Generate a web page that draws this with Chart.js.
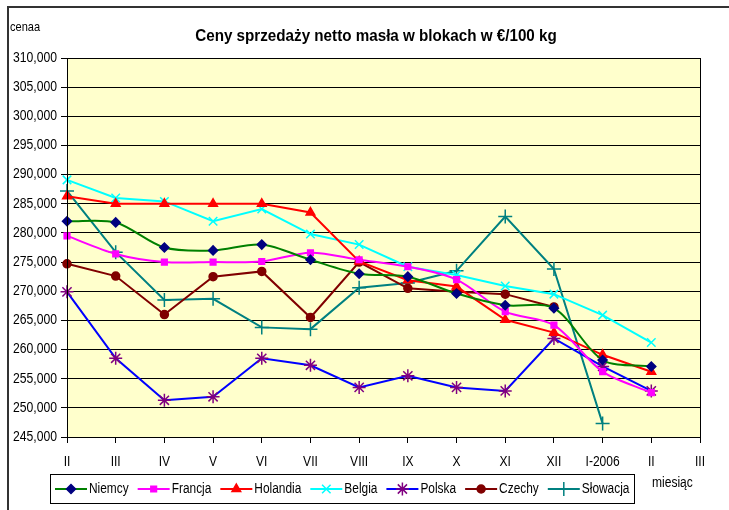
<!DOCTYPE html>
<html>
<head>
<meta charset="utf-8">
<script src="https://cdn.jsdelivr.net/npm/chart.js@4"></script>
<style>
  body { margin: 0; background: #fff; }
  #wrap { width: 729px; height: 510px; }
</style>
</head>
<body>
<div id="wrap"><canvas id="myChart" width="729" height="510"></canvas></div>
<script>
var months = ['II', 'III', 'IV', 'V', 'VI', 'VII', 'VIII', 'IX', 'X', 'XI', 'XII', 'I-2006', 'II', 'III'];

var niemcy   = [282.0, 281.8, 277.5, 277.0, 278.0, 275.4, 273.0, 272.5, 269.6, 267.6, 267.1, 258.2, 257.1, null];
var francja  = [279.5, 276.4, 275.0, 275.0, 275.1, 276.6, 275.4, 274.2, 272.0, 266.5, 264.2, 256.2, 252.6, null];
var holandia = [286.3, 285.0, 285.0, 285.0, 285.0, 283.5, 275.1, 271.9, 270.8, 265.1, 262.9, 259.1, 256.2, null];
var belgia   = [289.1, 286.0, 285.4, 282.0, 284.1, 279.8, 278.0, 274.2, 272.8, 270.9, 269.5, 265.9, 261.2, null];
var polska   = [269.9, 258.5, 251.3, 251.9, 258.5, 257.3, 253.5, 255.5, 253.5, 252.9, 261.9, 257.1, 252.9, null];
var czechy   = [274.7, 272.6, 266.0, 272.5, 273.4, 265.5, 275.0, 270.5, 269.9, 269.5, 267.3, null, null, null];
var slowacja = [287.2, 276.7, 268.5, 268.7, 263.8, 263.5, 270.6, 271.4, 273.5, 282.8, 273.8, 247.3, null, null];

var chartTitle = 'Ceny sprzedaży netto masła w blokach w €/100 kg';
var yTitle = 'cenaa';
var xTitle = 'miesiąc';

var fam = "'Liberation Sans', Arial, sans-serif";

function series(label, data, line, marker, style, radius, tension) {
    return {
        label: label,
        data: data,
        borderColor: line,
        backgroundColor: marker,
        pointBackgroundColor: marker,
        pointBorderColor: marker,
        pointStyle: style,
        pointRadius: radius,
        pointBorderWidth: 1.5,
        borderWidth: 2,
        tension: tension,
        spanGaps: false
    };
}

// text squeezed sideways, like the condensed Excel font
function squeezed(c, txt, x, y, align, font, s) {
    c.save();
    c.translate(x, y);
    c.scale(s, 1);
    c.font = font;
    c.textAlign = align;
    c.textBaseline = 'middle';
    c.fillStyle = '#000';
    c.fillText(txt, 0, 0);
    var w = c.measureText(txt).width * s;
    c.restore();
    return w;
}

// plot background, frame, texts and legend box
var decor = {
    id: 'decor',
    beforeDraw: function(chart) {
        var c = chart.ctx, a = chart.chartArea;
        c.save();
        c.fillStyle = '#ffffcc';
        c.fillRect(a.left, a.top, a.right - a.left, a.bottom - a.top);
        c.restore();
    },
    afterDraw: function(chart) {
        var c = chart.ctx, a = chart.chartArea;
        var xs = chart.scales.x, ys = chart.scales.y;
        c.save();
        c.strokeStyle = '#000';
        c.lineWidth = 1;
        c.strokeRect(a.left + 0.5, a.top + 0.5, a.right - a.left, a.bottom - a.top);

        // outer frame
        c.strokeStyle = '#333';
        c.lineWidth = 2;
        c.beginPath();
        c.moveTo(8, 510);
        c.lineTo(8, 7);
        c.lineTo(729, 7);
        c.stroke();

        // tick labels
        xs.ticks.forEach(function(t, i) {
            squeezed(c, t.label, xs.getPixelForTick(i), 462, 'center', '14px ' + fam, 0.86);
        });
        ys.ticks.forEach(function(t, i) {
            squeezed(c, t.label, 57, ys.getPixelForTick(i), 'right', '14px ' + fam, 0.87);
        });

        squeezed(c, chartTitle, 376, 37, 'center', 'bold 16px ' + fam, 0.95);
        squeezed(c, yTitle, 10, 27, 'left', '13px ' + fam, 0.85);
        squeezed(c, xTitle, 652, 483, 'left', '14px ' + fam, 0.86);

        // legend
        c.fillStyle = '#fff';
        c.fillRect(50, 474, 584, 29);
        c.strokeStyle = '#000';
        c.lineWidth = 1;
        c.strokeRect(50.5, 474.5, 584, 29);
        var x = 55, y = 489;
        chart.data.datasets.forEach(function(ds) {
            c.strokeStyle = ds.borderColor;
            c.lineWidth = 2;
            c.beginPath();
            c.moveTo(x, y);
            c.lineTo(x + 32, y);
            c.stroke();
            c.fillStyle = ds.pointBackgroundColor;
            c.strokeStyle = ds.pointBorderColor;
            c.lineWidth = 1.5;
            Chart.helpers.drawPoint(c, {
                pointStyle: ds.pointStyle, radius: ds.pointRadius, borderWidth: 1.5
            }, x + 16, y);
            var w = squeezed(c, ds.label, x + 34, y, 'left', '14px ' + fam, 0.85);
            x += 34 + w + 9;
        });
        c.restore();
    }
};

var ctx = document.getElementById('myChart').getContext('2d');
var myChart = new Chart(ctx, {
    type: 'line',
    data: {
        labels: months,
        datasets: [
            series('Niemcy', niemcy, '#008000', '#000080', 'rectRot', 4.5, 0.3),
            series('Francja', francja, '#ff00ff', '#ff00ff', 'rect', 4, 0.3),
            series('Holandia', holandia, '#ff0000', '#ff0000', 'triangle', 5, 0),
            series('Belgia', belgia, '#00ffff', '#00ffff', 'crossRot', 6, 0),
            series('Polska', polska, '#0000ff', '#800080', 'star', 6.5, 0),
            series('Czechy', czechy, '#800000', '#800000', 'circle', 4, 0),
            series('Słowacja', slowacja, '#008080', '#008080', 'cross', 7, 0)
        ]
    },
    options: {
        responsive: false,
        animation: false,
        layout: { padding: { left: 0, right: 29, top: 58, bottom: 0 } },
        plugins: {
            legend: { display: false },
            title: { display: false },
            tooltip: { enabled: false }
        },
        scales: {
            x: {
                offset: false,
                grid: { display: true, drawOnChartArea: false, drawTicks: true, tickLength: 6, color: '#000' },
                border: { display: true, color: '#000', width: 1 },
                ticks: { display: false, autoSkip: false, maxRotation: 0 },
                afterFit: function(scale) { scale.height = 73; }
            },
            y: {
                min: 245,
                max: 310,
                grid: { color: '#000', lineWidth: 1, tickLength: 6 },
                border: { display: true, color: '#000', width: 1 },
                ticks: {
                    display: false,
                    stepSize: 5,
                    callback: function(v) { return v.toFixed(3).replace('.', ','); }
                },
                afterFit: function(scale) { scale.width = 67; }
            }
        }
    },
    plugins: [decor]
});
</script>
</body>
</html>
